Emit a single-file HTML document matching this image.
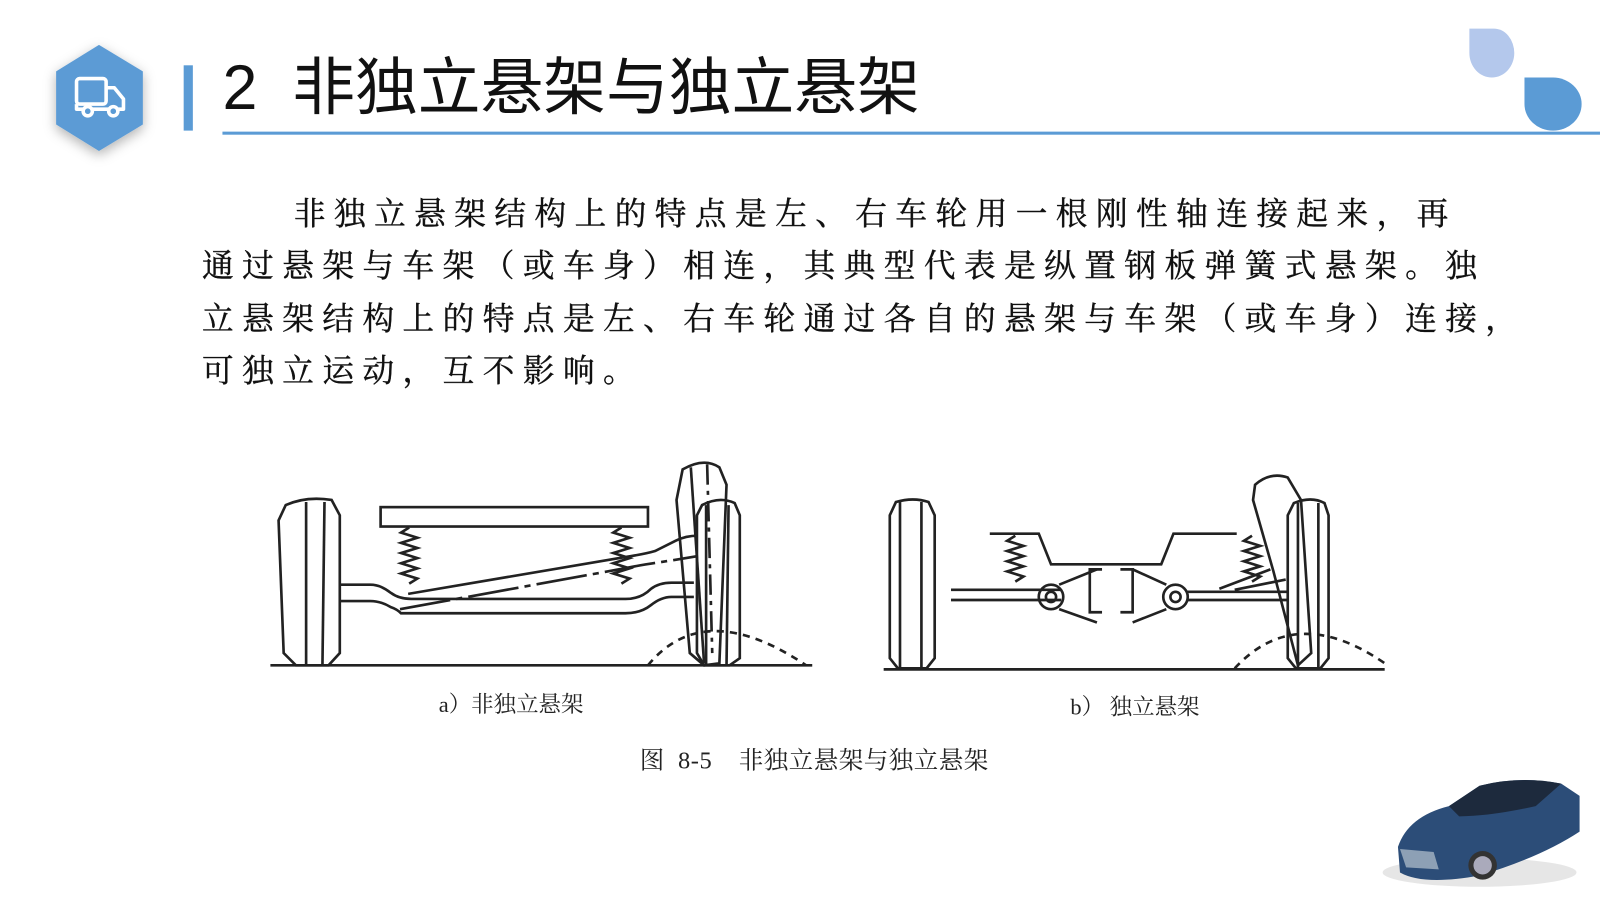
<!DOCTYPE html>
<html><head><meta charset="utf-8"><style>
html,body{margin:0;padding:0;background:#fff;}
body{width:1600px;height:900px;position:relative;overflow:hidden;font-family:"Liberation Sans","Noto Sans CJK SC",sans-serif;}
#wrap{position:absolute;left:0;top:0;width:1568px;height:882px;transform:scale(1.0204);transform-origin:0 0;}
.abs{position:absolute;}
.title{left:218px;top:49px;font-size:61.5px;color:#111;white-space:nowrap;line-height:76px;}
.para{font-family:"Liberation Serif","Noto Serif CJK SC",serif;font-size:31px;letter-spacing:8.3px;color:#111;white-space:nowrap;line-height:51px;-webkit-text-stroke:0.4px #111;}
.lbl{font-family:"Liberation Serif","Noto Serif CJK SC",serif;color:#222;white-space:nowrap;}
</style></head><body><div id="wrap">
<svg class="abs" style="left:0;top:0" width="1568" height="882">
<defs><filter id="sh" x="-50%" y="-50%" width="200%" height="200%"><feDropShadow dx="0" dy="4" stdDeviation="6" flood-color="#000" flood-opacity="0.3"/></filter></defs>
<polygon points="97,44 140,70 140,122 97,148 55,122 55,70" fill="#5b9bd5" filter="url(#sh)"/>
<g fill="none" stroke="#fff" stroke-width="3.5" stroke-linejoin="round">
<rect x="75" y="77" width="29" height="25" rx="3"/>
<path d="M104,86 h8 l9,11 v10 h-46 v-5"/>
<circle cx="86" cy="109" r="4.5" fill="#5b9bd5"/><circle cx="111" cy="109" r="4.5" fill="#5b9bd5"/>
</g>
<rect x="180" y="64" width="9" height="64" fill="#5b9bd5"/>
<rect x="218" y="129" width="1350" height="3" fill="#5b9bd5"/>
<path d="M1440,28 h24 a20,24 0 0 1 20,24 a22,24 0 0 1 -22,24 a22,24 0 0 1 -22,-24z" fill="#b4c8ec"/>
<path d="M1494,76 h28 a28,26 0 0 1 28,26 a28,26 0 0 1 -28,26 a28,26 0 0 1 -28,-26z" fill="#5b9bd5"/>

<g fill="none" stroke="#222" stroke-width="2.6">
<line x1="265" y1="652" x2="796" y2="652"/>
<path d="M280,495 Q300,486 325,490 L333,505 L333,640 L322,652 L290,652 L278,640 L273,510z"/>
<line x1="300" y1="492" x2="300" y2="652"/><line x1="318" y1="492" x2="316" y2="652"/>
<rect x="373" y="497" width="262" height="19"/>
<path d="M401,517 l-8,5 16,5 -16,5 16,5 -16,5 16,5 -16,5 16,5 -16,5 16,5 -8,5"/>
<path d="M609,517 l-8,5 16,5 -16,5 16,5 -16,5 16,5 -16,5 16,5 -16,5 16,5 -8,5"/>
<path d="M333,573 h30 q10,0 20,8 q8,6 20,6 h210 q15,0 25,-10 q8,-6 20,-6 h22"/>
<path d="M333,589 h30 q10,0 20,6 q6,2 10,6 h220 q15,0 25,-8 q10,-8 20,-8 h22"/>
<path d="M400,582 L612,546 q20,-3 30,-6 l20,-10 q10,-5 22,-5"/>
<path d="M392,597 L612,557 q20,-4 35,-6 l37,-6" stroke-dasharray="50,6,6,6"/>
<path d="M669,460 Q690,448 705,458 L712,475 L705,650 L690,652 L676,640 L663,490z"/>
<line x1="677" y1="458" x2="690" y2="650"/><line x1="693" y1="455" x2="698" y2="640" stroke-dasharray="20,6,4,6"/>
<path d="M688,495 Q705,486 720,493 L725,505 L725,645 L715,652 L690,652 L683,640 L683,505z"/>
<line x1="692" y1="495" x2="692" y2="652"/><line x1="714" y1="495" x2="712" y2="652"/>
<path d="M635,652 Q690,585 790,652" stroke-dasharray="7,6"/>
</g>

<g fill="none" stroke="#222" stroke-width="2.6">
<line x1="866" y1="656" x2="1357" y2="656"/>
<path d="M878,492 Q895,487 910,492 L916,505 L916,645 L908,655 L880,655 L872,645 L872,505z"/>
<line x1="882" y1="492" x2="882" y2="655"/><line x1="903" y1="492" x2="903" y2="655"/>
<path d="M970,523 h48 l12,30 h108 l12,-30 h62"/>
<path d="M995,525 l-8,5 16,5 -16,5 16,5 -16,5 16,5 -16,5 16,5 -8,5"/>
<path d="M1227,525 l-8,5 16,5 -16,5 16,5 -16,5 16,5 -16,5 16,5 -8,5"/>
<line x1="932" y1="578" x2="1040" y2="578"/><line x1="932" y1="588" x2="1040" y2="588"/>
<circle cx="1030" cy="585" r="12"/><circle cx="1030" cy="585" r="5"/>
<circle cx="1152" cy="585" r="12"/><circle cx="1152" cy="585" r="5"/>
<path d="M1038,573 L1075,558 M1038,597 L1075,610 M1143,573 L1110,558 M1143,597 L1110,610"/>
<path d="M1080,558 h-12 v42 h12 M1098,558 h12 v42 h-12"/>
<line x1="1163" y1="580" x2="1262" y2="580"/><line x1="1163" y1="588" x2="1262" y2="588"/>
<path d="M1195,577 L1245,558 M1210,578 L1260,568"/>
<path d="M1230,475 Q1245,462 1262,468 L1275,490 L1285,640 L1272,652 L1248,560 L1228,490z"/>
<path d="M1268,493 Q1285,486 1298,493 L1302,505 L1302,645 L1294,655 L1270,655 L1262,645 L1262,505z"/>
<line x1="1272" y1="493" x2="1272" y2="655"/><line x1="1292" y1="493" x2="1292" y2="655"/>
<path d="M1210,655 Q1270,590 1357,650" stroke-dasharray="7,6"/>
</g>

<g>
<ellipse cx="1450" cy="855" rx="95" ry="14" fill="#e6e6e6"/>
<path d="M1370,830 Q1380,800 1420,790 L1450,770 Q1490,760 1530,768 L1548,780 L1548,815 Q1510,840 1450,858 Q1395,868 1372,855z" fill="#2c4d78"/>
<path d="M1420,790 L1450,770 Q1490,760 1530,768 L1505,790 Q1460,800 1430,800z" fill="#1d2a3d"/>
<path d="M1372,832 L1405,835 L1410,852 L1378,850z" fill="#8da0b5"/>
<circle cx="1453" cy="848" r="14" fill="#333"/><circle cx="1453" cy="848" r="9" fill="#aab"/>
</g>
</svg>

<div class="abs title">2&nbsp; 非独立悬架与独立悬架</div>
<div class="abs para" style="left:288px;top:184px;">非独立悬架结构上的特点是左、右车轮用一根刚性轴连接起来，再</div>
<div class="abs para" style="left:198px;top:235px;">通过悬架与车架（或车身）相连，其典型代表是纵置钢板弹簧式悬架。独</div>
<div class="abs para" style="left:198px;top:287px;">立悬架结构上的特点是左、右车轮通过各自的悬架与车架（或车身）连接，</div>
<div class="abs para" style="left:198px;top:338px;">可独立运动，互不影响。</div>

<div class="abs lbl" style="left:430px;top:674px;font-size:22px;">a）非独立悬架</div>
<div class="abs lbl" style="left:1049px;top:676px;font-size:22px;">b）&nbsp;独立悬架</div>
<div class="abs lbl" style="left:627px;top:725px;font-size:24px;letter-spacing:0.5px;">图&nbsp; 8-5 &nbsp;&nbsp; 非独立悬架与独立悬架</div>
</div></body></html>
